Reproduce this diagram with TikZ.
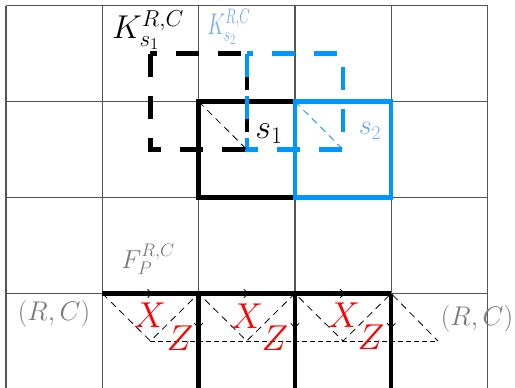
\RequirePackage{fix-cm}
\documentclass[tikz,border=0pt]{standalone}
\usetikzlibrary{decorations.markings,arrows.meta}
\definecolor{gridgray}{RGB}{85,85,85}
\definecolor{myblue}{RGB}{0,150,255}
\definecolor{lightblue}{RGB}{110,170,240}
\definecolor{labgray}{RGB}{120,120,120}
\begin{document}
\begin{tikzpicture}[x=1pt,y=-1pt,
  gridline/.style={draw=gridgray,line width=1.4pt},
  thickline/.style={line width=4.5pt},
  dashsq/.style={line width=4.5pt,dash pattern=on 23pt off 19pt},
  thindash/.style={line width=0.8pt,dash pattern=on 7pt off 5pt},
  hdash/.style={line width=0.8pt,dash pattern=on 5pt off 3pt},
  arrowmark/.style={postaction={decorate},decoration={markings,mark=at position #1 with {\arrow[line width=0.8pt]{To[length=8pt,width=9pt]}}}},
  redlab/.style={text=red,font=\fontsize{36}{40}\selectfont,inner sep=0pt},
  biglab/.style={font=\fontsize{33}{36}\selectfont,inner sep=0pt},
  smalllab/.style={font=\fontsize{26}{30}\selectfont,inner sep=0pt}
]
\useasboundingbox (0,0) rectangle (515,388);
% grid
\begin{scope}
\clip (0,0) rectangle (515,388);
\foreach \y in {5.5,101.5,197.5,293.5}{
  \draw[gridline] (6,\y) -- (487.5,\y);
}
\foreach \x in {6,102.3,198.6,294.9,391.2,487.5}{
  \draw[gridline] (\x,5.5) -- (\x,392);
}
\end{scope}
% squares
\coordinate (s1tl) at (198.6,101.5);
\coordinate (s1br) at (294.9,197.5);
\coordinate (s1c) at (246.75,149.5);
\coordinate (s2tl) at (294.9,101.5);
\coordinate (s2br) at (391.2,197.5);
\coordinate (s2c) at (343.05,149.5);
\coordinate (k1tl) at (150.45,53.5);
\coordinate (k2tl) at (246.75,53.5);
\draw[thickline,line join=miter] (s1tl) rectangle (s1br);
\draw[thickline,myblue,line join=miter] (s2tl) rectangle (s2br);
\draw[dashsq] (k1tl) rectangle (s1c);
\draw[dashsq,myblue] (k2tl) rectangle (s2c);
\draw[thindash] (s1tl) -- (s1c);
\draw[thindash,myblue] (s2tl) -- (s2c);
% labels top
\node[biglab] (K1) at (148,30) {$K^{R,C}_{s_1}$};
\node[smalllab,text=lightblue,xscale=0.75,yscale=1.15] (K2) at (229,27) {$K^{R,C}_{s_2}$};
\node[biglab,font=\fontsize{34}{38}\selectfont] (S1) at (269,134) {$s_1$};
\node[smalllab,text=lightblue,font=\fontsize{28}{32}\selectfont] (S2) at (370,131) {$s_2$};
\node[smalllab,text=labgray] (FP) at (148,259) {$F^{R,C}_{P}$};
\node[smalllab,text=labgray,font=\fontsize{27}{30}\selectfont] (RC1) at (54,314) {$(R,C)$};
\node[smalllab,text=labgray,font=\fontsize{27}{30}\selectfont] (RC2) at (477,319) {$(R,C)$};
% bottom part
\coordinate (b1) at (102.3,293.5);
\coordinate (b2) at (198.6,293.5);
\coordinate (b3) at (294.9,293.5);
\coordinate (b4) at (391.2,293.5);
\coordinate (d2) at (198.6,392);
\coordinate (d3) at (294.9,392);
\coordinate (d4) at (391.2,392);
\coordinate (v1) at (150.45,341);
\coordinate (v2) at (246.75,341);
\coordinate (v3) at (343.05,341);
\coordinate (v4) at (438,341);
\draw[thindash] (b1) -- (v1) -- (b2) -- (v2) -- (b3) -- (v3) -- (b4) -- (v4);
\draw[hdash] (v1) -- (v4);
\draw[thickline,arrowmark=0.55] (b1) -- (b2);
\draw[thickline,arrowmark=0.55] (b2) -- (b3);
\draw[thickline,arrowmark=0.55] (b3) -- (b4);
\draw[thickline] (b1) -- (b4);
\draw[thickline,arrowmark=0.38] (b2) -- (d2);
\draw[thickline,arrowmark=0.38] (b3) -- (d3);
\draw[thickline,arrowmark=0.38] (b4) -- (d4);
\node[redlab] (X1) at (150,315) {$X$};
\node[redlab] (X2) at (247,316) {$X$};
\node[redlab] (X3) at (344,315) {$X$};
\node[redlab] (Z1) at (180,338) {$Z$};
\node[redlab] (Z2) at (275,338) {$Z$};
\node[redlab] (Z3) at (371,337) {$Z$};
\end{tikzpicture}
\end{document}
